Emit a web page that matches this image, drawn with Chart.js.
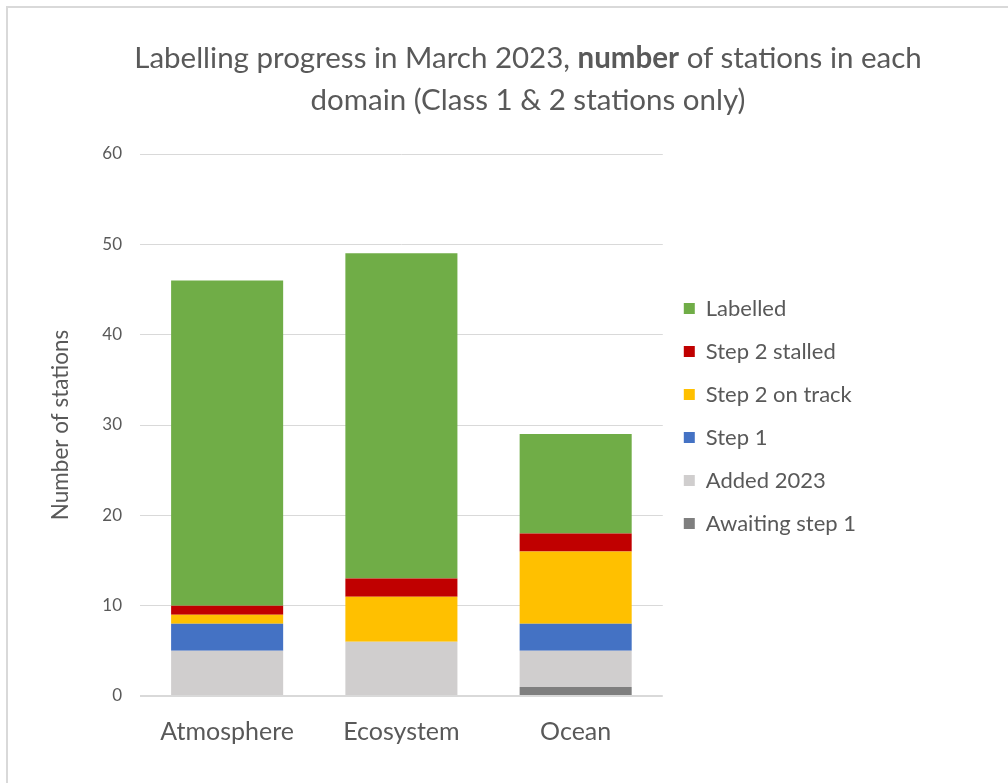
<!DOCTYPE html>
<html>
<head>
<meta charset="utf-8">
<script src="https://cdn.jsdelivr.net/npm/chart.js@4"></script>
<style>
  html, body { margin: 0; padding: 0; background: #fff; }
  #wrap { position: relative; width: 1008px; height: 783px; overflow: hidden; background: #fff; }
  #frame { position: absolute; left: 6px; top: 6px; width: 1100px; height: 900px; border-left: 2px solid #d9d9d9; border-top: 2px solid #d9d9d9; }
  #title { position: absolute; left: 0; top: 36px; width: 1056px; text-align: center; font-family: Lato, "Open Sans", sans-serif; font-size: 29.5px; line-height: 42px; color: #595959; }
  #title b { font-weight: bold; }
  canvas { position: absolute; left: 0; top: 0; }
</style>
</head>
<body>
<div id="wrap">
  <div id="frame"></div>
  <canvas id="c" width="1008" height="783"></canvas>
  <div id="title">Labelling progress in March 2023, <b>number</b> of stations in each<br>domain (Class 1 &amp; 2 stations only)</div>
</div>
<script>
const categories = ["Atmosphere", "Ecosystem", "Ocean"];
const seriesNames = ["Awaiting step 1", "Added 2023", "Step 1", "Step 2 on track", "Step 2 stalled", "Labelled"];
const awaitingStep1 = [0, 0, 1];
const added2023 = [5, 6, 4];
const step1 = [3, 0, 3];
const step2OnTrack = [1, 5, 8];
const step2Stalled = [1, 2, 2];
const labelled = [36, 36, 11];
const seriesColors = ["#7f7f7f", "#d0cece", "#4472c4", "#ffc000", "#c00000", "#70ad47"];
const yTicks = [0, 10, 20, 30, 40, 50, 60];
const yAxisTitle = "Number of stations";

const seriesValues = [awaitingStep1, added2023, step1, step2OnTrack, step2Stalled, labelled];
const FONT = 'Lato, "Open Sans", sans-serif';
const TXT = '#595959';

new Chart(document.getElementById('c'), {
  type: 'bar',
  data: {
    labels: categories,
    datasets: seriesNames.map((n, i) => ({
      label: n,
      data: seriesValues[i],
      backgroundColor: seriesColors[i],
      borderWidth: 0,
      categoryPercentage: 1.0,
      barPercentage: 0.643
    }))
  },
  options: {
    responsive: false,
    animation: false,
    layout: { padding: { left: 43, right: 142, top: 154, bottom: 23 } },
    scales: {
      x: {
        stacked: true,
        grid: { display: false },
        border: { display: false },
        ticks: { color: TXT, font: { family: FONT, size: 25 }, padding: 13 }
      },
      y: {
        stacked: true,
        min: 0, max: 60,
        afterFit: (s) => { s.width = 97; },
        afterBuildTicks: (s) => { s.ticks = yTicks.map(v => ({ value: v })); },
        grid: {
          color: '#d9d9d9',
          lineWidth: (ctx) => ctx.tick && ctx.tick.value === 0 ? 2 : 1,
          drawTicks: false
        },
        border: { display: false },
        ticks: { color: TXT, font: { family: FONT, size: 17 }, padding: 18 },
        title: { display: true, text: yAxisTitle, color: TXT, font: { family: FONT, size: 22.5 }, padding: { top: 4, bottom: 4 } }
      }
    },
    plugins: {
      title: { display: false },
      tooltip: { enabled: false },
      legend: {
        position: 'right',
        align: 'start',
        fullSize: false,
        reverse: true,
        title: { display: true, text: ' ', font: { family: FONT, size: 18 }, padding: { top: 101, bottom: 0 } },
        labels: {
          color: TXT,
          font: { family: FONT, size: 22 },
          boxWidth: 11,
          boxHeight: 11,
          padding: 21
        }
      }
    }
  }
});
</script>
</body>
</html>
